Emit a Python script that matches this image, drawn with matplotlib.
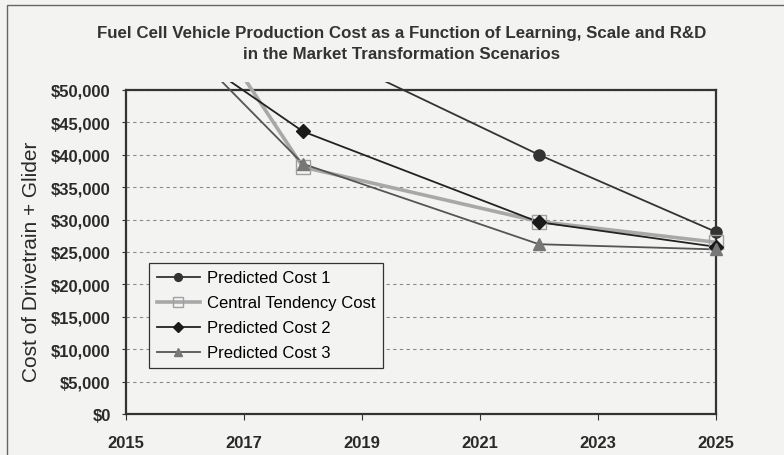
import matplotlib
matplotlib.use("Agg")
import matplotlib.pyplot as plt
from matplotlib.patches import Rectangle
from matplotlib.ticker import FuncFormatter

years = [2015, 2018, 2022, 2025]
predicted_cost_1 = [69600, 57400, 40000, 28100]
central_tendency = [79400, 38100, 29700, 26500]
predicted_cost_2 = [62400, 43600, 29600, 25800]
predicted_cost_3 = [66300, 38600, 26200, 25400]

x_ticks = [2015, 2017, 2019, 2021, 2023, 2025]
y_ticks = list(range(0, 50001, 5000))

title = "Fuel Cell Vehicle Production Cost as a Function of Learning, Scale and R&D\nin the Market Transformation Scenarios"
y_label = "Cost of Drivetrain + Glider"

plt.rcParams['font.family'] = ['Liberation Sans', 'DejaVu Sans']
bg = '#f3f3f1'

fig = plt.figure(figsize=(7.84, 4.56), dpi=100, facecolor=bg)
fig.patches.append(Rectangle((7/784, -0.05), 1.2, 1 - 6/456 + 0.05, transform=fig.transFigure,
                             fill=False, edgecolor='#666666', linewidth=1.0))
ax = fig.add_axes([126/784, 1-415/456, 590/784, 324/456], facecolor=bg)

series = [
    ("Predicted Cost 1", predicted_cost_1, dict(color='#333333', lw=1.3, marker='o', ms=8,
                                                mfc='#333333', mec='#333333', mew=1.0)),
    ("Central Tendency Cost", central_tendency, dict(color='#a8a8a8', lw=2.6, marker='s', ms=10,
                                                     mfc='none', mec='#a0a0a0', mew=1.0)),
    ("Predicted Cost 2", predicted_cost_2, dict(color='#222222', lw=1.3, marker='D', ms=7,
                                                mfc='#1a1a1a', mec='#1a1a1a', mew=1.0)),
    ("Predicted Cost 3", predicted_cost_3, dict(color='#555555', lw=1.3, marker='^', ms=9,
                                                mfc='#777777', mec='#777777', mew=1.0)),
]

clip_rect = Rectangle((0, 0), 1, 1.025, transform=ax.transAxes, fill=False, visible=False)
ax.add_patch(clip_rect)

handles = []
for label, vals, st in series:
    ln, = ax.plot(years, vals, color=st['color'], lw=st['lw'], zorder=3)
    ln.set_clip_path(clip_rect)
    xs = [x for x, v in zip(years, vals) if v <= 50000]
    vs = [v for v in vals if v <= 50000]
    ax.plot(xs, vs, ls='none', marker=st['marker'], ms=st['ms'], mfc=st['mfc'],
            mec=st['mec'], mew=st['mew'], zorder=4, clip_on=False)
    h, = ax.plot([], [], color=st['color'], lw=st['lw'], marker=st['marker'],
                 ms=st['ms'] * 0.7, mfc=st['mfc'], mec=st['mec'], mew=st['mew'], label=label)
    handles.append(h)

ax.set_xlim(2015, 2025)
ax.set_ylim(0, 50000)
ax.set_xticks(x_ticks)
ax.set_yticks(y_ticks)
ax.yaxis.set_major_formatter(FuncFormatter(lambda v, p: "${:,.0f}".format(v)))
for lbl in ax.get_xticklabels() + ax.get_yticklabels():
    lbl.set_fontweight('bold')
    lbl.set_fontsize(12)
    lbl.set_color('#2a2a2a')
ax.tick_params(axis='x', direction='out', length=4, pad=11, color='#333333')
ax.tick_params(axis='y', direction='out', length=3, pad=8, color='#333333')
ax.grid(axis='y', linestyle=(0, (3, 3)), color='#8a8a8a', lw=0.8)
ax.set_axisbelow(True)
for s in ax.spines.values():
    s.set_color('#333333')
    s.set_linewidth(1.6)

ax.set_ylabel(y_label, fontsize=15, color='#2a2a2a')
ax.yaxis.set_label_coords(-85/590, (415-262)/324)

fig.text(402/784, 1-44/456, title, ha='center', va='center', fontsize=12.2,
         fontweight='bold', color='#333333', linespacing=1.45)

leg = ax.legend(handles=handles, loc='lower left', bbox_to_anchor=(0.039, 0.142),
                fontsize=12, frameon=True, fancybox=False, edgecolor='#333333',
                facecolor=bg, framealpha=1, handlelength=2.6, handletextpad=0.45,
                labelspacing=0.6, borderpad=0.45, borderaxespad=0)
leg.get_frame().set_linewidth(0.9)

fig.savefig("out.png", dpi=100, facecolor=bg)
